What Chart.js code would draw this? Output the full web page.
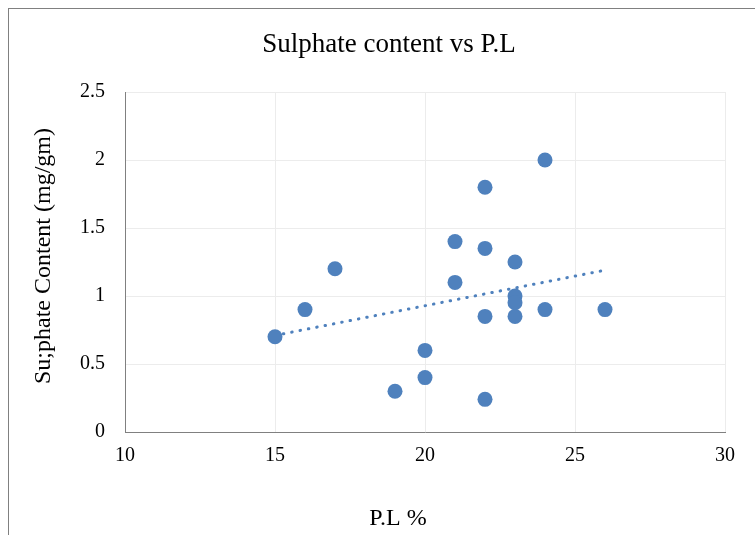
<!DOCTYPE html>
<html>
<head>
<meta charset="utf-8">
<script src="https://cdn.jsdelivr.net/npm/chart.js@4/dist/chart.umd.min.js"></script>
<style>
  body { margin: 0; background: #fff; }
  #frame { position: absolute; left: 8px; top: 8px; width: 780px; height: 560px; border: 1px solid #808080; }
  #wrap { position: absolute; left: 0; top: 0; width: 755px; height: 535px; }
</style>
</head>
<body>
<div id="frame"></div>
<div id="wrap"><canvas id="chart" width="755" height="535"></canvas></div>
<script>
// P.L % values and sulphate content (mg/gm)
var plValues = [15, 16, 17, 19, 20, 20, 21, 21, 22, 22, 22, 22, 23, 23, 23, 23, 24, 24, 26];
var sulphate = [0.7, 0.9, 1.2, 0.3, 0.6, 0.4, 1.4, 1.1, 1.8, 1.35, 0.85, 0.24, 1.25, 1.0, 0.95, 0.85, 2.0, 0.9, 0.9];
// linear trendline ends
var trendX = [15, 26];
var trendY = [0.71, 1.19];

var titleText = 'Sulphate content vs P.L';
var xTitle = 'P.L %';
var yTitle = 'Su;phate Content (mg/gm)';

var blue = '#4f81bd';
var serif = '"Liberation Serif", "Times New Roman", serif';

var points = plValues.map(function (x, i) { return { x: x, y: sulphate[i] }; });
var trend = trendX.map(function (x, i) { return { x: x, y: trendY[i] }; });

// titles sit a bit off the plot centre in the original, so draw them here
var textPlugin = {
  id: 'titles',
  afterDraw: function (chart) {
    var c = chart.ctx;
    c.save();
    c.fillStyle = '#000';
    c.textAlign = 'center';
    c.textBaseline = 'middle';
    c.font = '27px ' + serif;
    c.fillText(titleText, 389, 45);
    c.font = '24px ' + serif;
    c.fillText(xTitle, 398, 519);
    c.translate(44, 256);
    c.rotate(-Math.PI / 2);
    c.fillText(yTitle, 0, 0);
    c.restore();
  }
};

var ctx = document.getElementById('chart').getContext('2d');

var chart = new Chart(ctx, {
  type: 'scatter',
  data: {
    datasets: [{
      label: 'Sulphate content',
      data: points,
      backgroundColor: blue,
      borderColor: blue,
      pointRadius: 7.5,
      pointBorderWidth: 0,
      order: 1
    }, {
      label: 'Linear trend',
      type: 'line',
      data: trend,
      borderColor: blue,
      borderWidth: 3,
      borderDash: [0.5, 8],
      borderCapStyle: 'round',
      pointRadius: 0,
      fill: false,
      order: 2
    }]
  },
  plugins: [textPlugin],
  options: {
    responsive: false,
    animation: false,
    layout: { padding: { left: 10, right: 30, top: 92, bottom: 0 } },
    plugins: {
      legend: { display: false },
      tooltip: { enabled: false },
      title: { display: false }
    },
    scales: {
      x: {
        type: 'linear',
        min: 10,
        max: 30,
        ticks: { stepSize: 5, color: '#000', padding: 12, font: { family: serif, size: 20 } },
        grid: { color: '#ececec', drawTicks: false },
        border: { color: '#808080', width: 1 },
        afterFit: function (scale) { scale.height = 103; }
      },
      y: {
        min: 0,
        max: 2.5,
        ticks: {
          stepSize: 0.5,
          color: '#000',
          padding: 20,
          font: { family: serif, size: 20 },
          callback: function (v) { return String(v); }
        },
        grid: { color: '#ececec', drawTicks: false },
        border: { color: '#808080', width: 1 },
        afterFit: function (scale) { scale.width = 115; }
      }
    }
  }
});
</script>
</body>
</html>
